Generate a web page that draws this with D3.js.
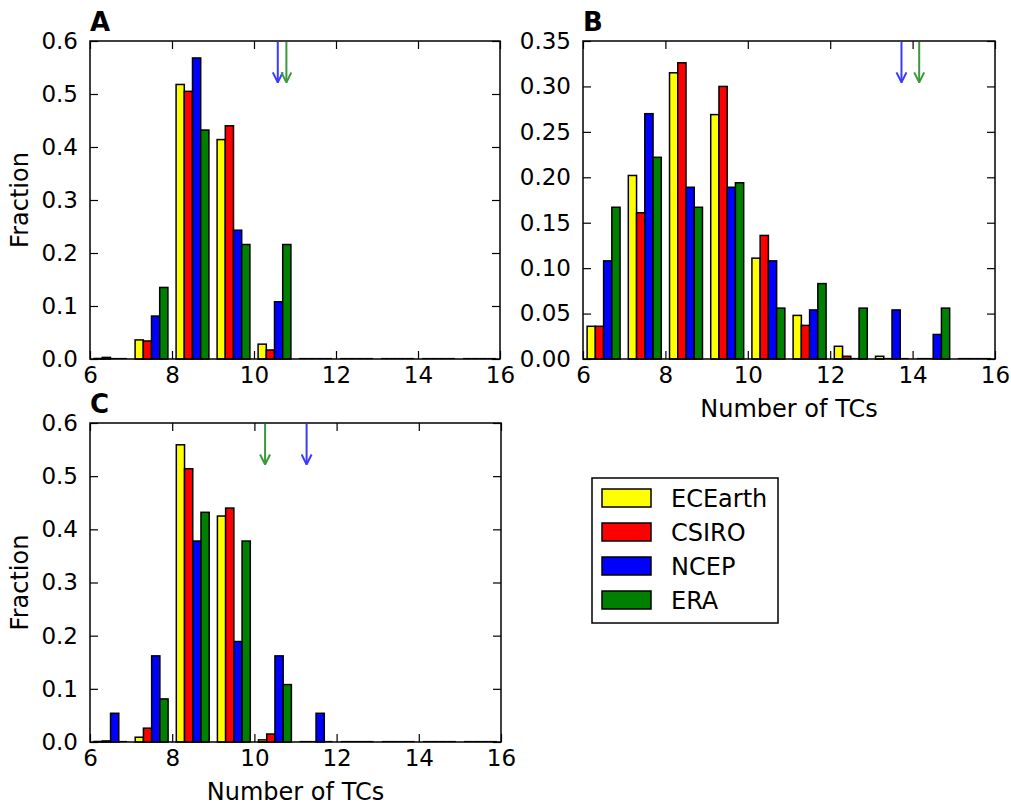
<!DOCTYPE html>
<html><head><meta charset="utf-8">
<script src="https://cdn.jsdelivr.net/npm/d3@7"></script>
<style>
body{margin:0;background:#fff;}
svg{display:block;}
text{font-family:"DejaVu Sans",sans-serif;fill:#000;}
</style></head>
<body>
<svg id="fig" width="1011" height="807"></svg>
<script>
// ---- data ----
const binStarts = [6,7,8,9,10,11,12,13,14,15];
const seriesNames = ["ECEarth","CSIRO","NCEP","ERA"];
const seriesColors = ["#ffff00","#ff0000","#0000ff","#008000"];
const xTicks = [6,8,10,12,14,16];

// Panel A
const aECEarth = [0.001,0.036,0.518,0.414,0.028,0,0,0,0,0];
const aCSIRO   = [0.003,0.034,0.505,0.440,0.017,0,0,0,0,0];
const aNCEP    = [0,0.081,0.568,0.243,0.108,0,0,0,0,0];
const aERA     = [0,0.135,0.432,0.216,0.216,0,0,0,0,0];
const aYTicks  = [0,0.1,0.2,0.3,0.4,0.5,0.6];
const aArrows  = [{name:"NCEP",x:10.58},{name:"ERA",x:10.79}];

// Panel B
const bECEarth = [0.036,0.202,0.315,0.269,0.111,0.048,0.014,0.003,0,0];
const bCSIRO   = [0.036,0.161,0.326,0.300,0.136,0.037,0.003,0,0,0];
const bNCEP    = [0.108,0.270,0.189,0.189,0.108,0.054,0,0.054,0.027,0];
const bERA     = [0.167,0.222,0.167,0.194,0.056,0.083,0.056,0,0.056,0];
const bYTicks  = [0,0.05,0.10,0.15,0.20,0.25,0.30,0.35];
const bArrows  = [{name:"NCEP",x:13.73},{name:"ERA",x:14.16}];

// Panel C
const cECEarth = [0.001,0.009,0.559,0.425,0.004,0,0,0,0,0];
const cCSIRO   = [0.002,0.026,0.514,0.440,0.015,0,0,0,0,0];
const cNCEP    = [0.054,0.162,0.378,0.189,0.162,0.054,0,0,0,0];
const cERA     = [0,0.081,0.432,0.378,0.108,0,0,0,0,0];
const cYTicks  = [0,0.1,0.2,0.3,0.4,0.5,0.6];
const cArrows  = [{name:"ERA",x:10.26},{name:"NCEP",x:11.27}];

const arrowColors = {NCEP:"#3a3aff", ERA:"#3a9a3a"};

const svg = d3.select("#fig");
const FS = 23;   // tick labels
const LFS = 24;  // axis labels / legend

const defs = svg.append("defs");
Object.entries(arrowColors).forEach(([k,c])=>{
  defs.append("marker").attr("id","ah-"+k)
    .attr("viewBox","0 0 12 12").attr("refX",11).attr("refY",6)
    .attr("markerWidth",12).attr("markerHeight",12).attr("markerUnits","userSpaceOnUse")
    .attr("orient","auto")
    .append("path").attr("d","M1,1 L11,6 L1,11").attr("fill","none")
    .attr("stroke",c).attr("stroke-width",2);
});

function panel(opts){
  const {x0,x1,y0,y1,series,yTicks,yMax,fmt,label,arrows,xlabel,ylabel} = opts;
  const g = svg.append("g");
  const x = d3.scaleLinear().domain([6,16]).range([x0,x1]);
  const y = d3.scaleLinear().domain([0,yMax]).range([y1,y0]);
  const bw = 0.8/series.length;
  // zero-level outlines of empty bins (matplotlib draws flat bars)
  series.forEach((vals,si)=>{
    g.append("g").selectAll("line").data(binStarts.map((b,i)=>({b,v:vals[i]})).filter(d=>d.v===0))
      .join("line")
      .attr("x1",d=>x(d.b+0.1+bw*si)).attr("x2",d=>x(d.b+0.1+bw*(si+1)))
      .attr("y1",y(0)-0.5).attr("y2",y(0)-0.5)
      .attr("stroke","#000").attr("stroke-width",1.2);
  });
  // bars
  series.forEach((vals,si)=>{
    g.append("g").selectAll("rect").data(binStarts.map((b,i)=>({b,v:vals[i]})).filter(d=>d.v>0))
      .join("rect")
      .attr("x",d=>x(d.b+0.1+bw*si))
      .attr("width",d=>x(d.b+0.1+bw*(si+1))-x(d.b+0.1+bw*si))
      .attr("y",d=>y(d.v))
      .attr("height",d=>y(0)-y(d.v))
      .attr("fill",seriesColors[si])
      .attr("stroke","#000").attr("stroke-width",1.5);
  });
  // arrows
  arrows.forEach(a=>{
    g.append("line")
      .attr("x1",x(a.x)).attr("x2",x(a.x))
      .attr("y1",y(yMax)+1).attr("y2",y(yMax*0.87))
      .attr("stroke",arrowColors[a.name]).attr("stroke-width",2)
      .attr("marker-end","url(#ah-"+a.name+")");
  });
  // axes (ticks inside, all four sides)
  const tl = 8;
  g.append("g").attr("transform",`translate(0,${y1})`)
    .call(d3.axisBottom(x).tickValues(xTicks).tickSize(-tl).tickPadding(8).tickFormat(d3.format("d")))
    .call(s=>{s.select(".domain").remove();s.selectAll("text").attr("font-size",FS).attr("font-family","DejaVu Sans").attr("fill","#000");});
  g.append("g").attr("transform",`translate(0,${y0})`)
    .call(d3.axisTop(x).tickValues(xTicks).tickSize(-tl).tickFormat(""))
    .call(s=>s.select(".domain").remove());
  g.append("g").attr("transform",`translate(${x0},0)`)
    .call(d3.axisLeft(y).tickValues(yTicks).tickSize(-tl).tickPadding(12).tickFormat(d3.format(fmt)))
    .call(s=>{s.select(".domain").remove();s.selectAll("text").attr("font-size",FS).attr("font-family","DejaVu Sans").attr("fill","#000");});
  g.append("g").attr("transform",`translate(${x1},0)`)
    .call(d3.axisRight(y).tickValues(yTicks).tickSize(-tl).tickFormat(""))
    .call(s=>s.select(".domain").remove());
  g.selectAll(".tick line").attr("stroke","#000").attr("stroke-width",1.2);
  g.append("rect").attr("x",x0).attr("y",y0).attr("width",x1-x0).attr("height",y1-y0)
    .attr("fill","none").attr("stroke","#000").attr("stroke-width",1.5);
  g.append("text").attr("x",x0).attr("y",y0-10).attr("font-size",26).attr("font-weight","bold").text(label);
  if(xlabel) g.append("text").attr("x",(x0+x1)/2).attr("y",y1+58).attr("text-anchor","middle").attr("font-size",LFS).text(xlabel);
  if(ylabel) g.append("text").attr("transform",`translate(${x0-62},${(y0+y1)/2}) rotate(-90)`).attr("text-anchor","middle").attr("font-size",LFS).text(ylabel);
}

panel({x0:90,x1:500,y0:41,y1:359,series:[aECEarth,aCSIRO,aNCEP,aERA],yTicks:aYTicks,yMax:0.6,fmt:".1f",label:"A",arrows:aArrows,ylabel:"Fraction"});
panel({x0:583,x1:995,y0:41,y1:359,series:[bECEarth,bCSIRO,bNCEP,bERA],yTicks:bYTicks,yMax:0.35,fmt:".2f",label:"B",arrows:bArrows,xlabel:"Number of TCs"});
panel({x0:90,x1:501,y0:423,y1:742,series:[cECEarth,cCSIRO,cNCEP,cERA],yTicks:cYTicks,yMax:0.6,fmt:".1f",label:"C",arrows:cArrows,xlabel:"Number of TCs",ylabel:"Fraction"});

// legend
const lg = svg.append("g");
lg.append("rect").attr("x",592).attr("y",478).attr("width",186).attr("height",145)
  .attr("fill","#fff").attr("stroke","#000").attr("stroke-width",1.5);
seriesNames.forEach((n,i)=>{
  const cy = 498 + i*34;
  lg.append("rect").attr("x",602).attr("y",cy-9).attr("width",49).attr("height",18)
    .attr("fill",seriesColors[i]).attr("stroke","#000").attr("stroke-width",1.5);
  lg.append("text").attr("x",671).attr("y",cy).attr("dy","0.36em").attr("font-size",LFS).text(n);
});
</script>
</body></html>
